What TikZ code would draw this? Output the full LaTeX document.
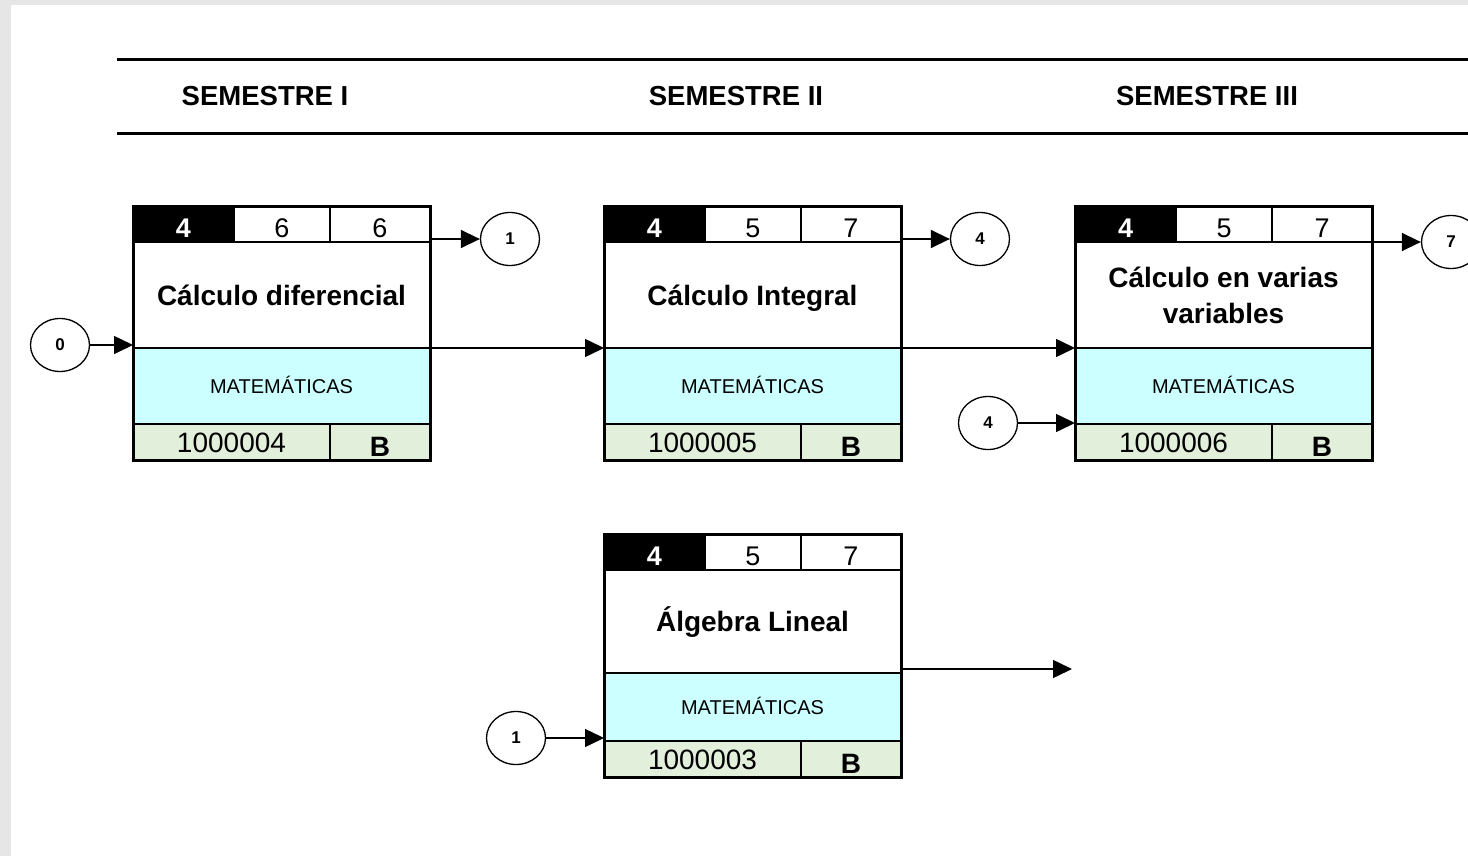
\documentclass[tikz,border=0pt]{standalone}
\usepackage{fontspec}
\setmainfont{Liberation Sans}
\usetikzlibrary{shapes.geometric,arrows.meta,calc}

\definecolor{pageframe}{HTML}{E6E6E6}
\definecolor{areacyan}{HTML}{CCFFFF}
\definecolor{codegreen}{HTML}{E2EFDA}

\tikzset{
  cell/.style={draw=black, line width=1.2pt, anchor=north west, inner sep=0pt, outer sep=0pt},
  boxframe/.style={draw=black, line width=3pt, anchor=north west, inner sep=0pt, outer sep=0pt},
  semtext/.style={font=\fontsize{27.5}{33}\selectfont\bfseries, anchor=base},
  topnum/.style={font=\fontsize{27}{32}\selectfont, anchor=base},
  topnumw/.style={font=\fontsize{27}{32}\selectfont\bfseries, text=white, anchor=base},
  titletext/.style={font=\fontsize{28}{36}\selectfont\bfseries, align=center, inner sep=0pt},
  oneline/.style={text height=20pt, text depth=0pt},
  titlefit/.style={oneline},
  areatext/.style={font=\fontsize{20}{24}\selectfont, anchor=base},
  codetext/.style={font=\fontsize{28}{32}\selectfont, anchor=base},
  reqtext/.style={font=\fontsize{28}{32}\selectfont\bfseries, anchor=base},
  marker/.style={ellipse, draw=black, line width=1.3pt, fill=white, minimum width=59pt,
    minimum height=53pt, inner sep=0pt, font=\fontsize{17}{20}\selectfont\bfseries},
  arr/.style={line width=1.5pt, -{Triangle[length=19pt,width=18pt]}},
}

\def\areaname{MATEMÁTICAS}

% Course card: #1 name, #2 x, #3 y (top left), #4-#6 credit row,
% #7 title, #8 code, #9 type. Heights of title and area rows come from \titleh, \areah.
\newcommand\coursebox[9]{%
  \begin{scope}[shift={(#2,#3)}]
    \pgfmathsetmacro\rowT{36+\titleh}
    \pgfmathsetmacro\rowC{36+\titleh+\areah}
    \node[cell, fill=black, minimum width=101pt, minimum height=36pt] (#1-a) at (0,0) {};
    \node[cell, fill=white, minimum width=96pt, minimum height=36pt] (#1-b) at (101,0) {};
    \node[cell, fill=white, minimum width=100pt, minimum height=36pt] (#1-c) at (197,0) {};
    \node[cell, fill=white, minimum width=297pt, minimum height=\titleh pt] (#1-t) at (0,36) {};
    \node[cell, fill=areacyan, minimum width=297pt, minimum height=\areah pt] (#1-m) at (0,\rowT) {};
    \node[cell, fill=codegreen, minimum width=197pt, minimum height=36pt] (#1-k) at (0,\rowC) {};
    \node[cell, fill=codegreen, minimum width=100pt, minimum height=36pt] (#1-r) at (197,\rowC) {};
    \node[boxframe, minimum width=297pt, minimum height={72pt+\titleh pt+\areah pt}] (#1) at (0,0) {};
    \node[topnumw] at (50.5,31) {#4};
    \node[topnum] at (149,31) {#5};
    \node[topnum] at (247,31) {#6};
    \node[titletext, titlefit] at (148.5,{36+\titleh/2}) {#7};
    \node[areatext] at (148.5,{\rowT+\areah/2+7}) {\areaname};
    \node[codetext] at (98.5,{\rowC+28}) {#8};
    \node[reqtext] at (247,{\rowC+32}) {#9};
  \end{scope}}

\begin{document}
\begin{tikzpicture}[x=1pt,y=-1pt]
  \useasboundingbox (0,0) rectangle (1468,856);
  \fill[pageframe] (0,0) rectangle (1468,856);
  \fill[white] (11,5) rectangle (1468,856);

  % semester header
  \draw[line width=3pt] (117,60) -- (1468,60);
  \draw[line width=3pt] (117,134) -- (1468,134);
  \node[semtext] (s1) at (265,106) {SEMESTRE I};
  \node[semtext] (s2) at (736,106) {SEMESTRE II};
  \node[semtext] (s3) at (1207,106) {SEMESTRE III};

  % courses
  \def\titleh{106}\def\areah{76}
  \coursebox{b1}{133}{206}{4}{6}{6}{Cálculo diferencial}{1000004}{B}
  \coursebox{b2}{604}{206}{4}{5}{7}{Cálculo Integral}{1000005}{B}
  \begin{scope}[titlefit/.style={}]
    \coursebox{b3}{1075}{206}{4}{5}{7}{Cálculo en varias\\variables}{1000006}{B}
  \end{scope}
  \def\titleh{103}\def\areah{68}
  \coursebox{b4}{604}{534}{4}{5}{7}{Álgebra Lineal}{1000003}{B}

  % connector markers
  \node[marker] (c0) at (60,345) {0};
  \node[marker] (c1) at (510,239) {1};
  \node[marker] (c4) at (980,239) {4};
  \node[marker] (c4b) at (988,423) {4};
  \node[marker] (c7) at (1451,242) {7};
  \node[marker] (c1b) at (516,738) {1};
  \coordinate (e4) at (1072,669);

  % prerequisite arrows
  \draw[arr] (c0) -- (c0 -| b1.west);
  \draw[arr] (b1.east |- c1) -- (c1);
  \draw[arr] (b1-t.south east) -- (b2-t.south west);
  \draw[arr] (b2.east |- c4) -- (c4);
  \draw[arr] (b2-t.south east) -- (b3-t.south west);
  \draw[arr] (c4b) -- (c4b -| b3.west);
  \draw[arr] (b3.east |- c7) -- (c7);
  \draw[arr] (c1b) -- (c1b -| b4.west);
  \draw[arr] (e4 -| b4.east) -- (e4);
\end{tikzpicture}
\end{document}
